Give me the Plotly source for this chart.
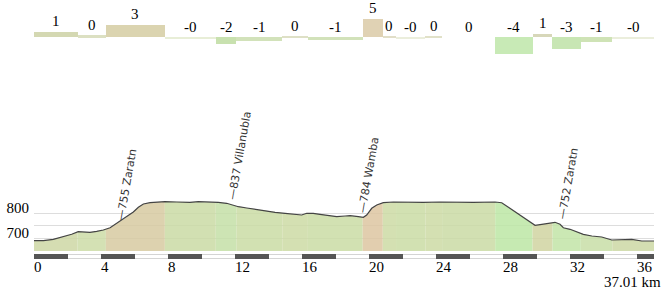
import numpy as np
import plotly.graph_objects as go

# ---------------- data ----------------
total_km = 37.01

profile_km = [0.0, 0.56, 1.15, 1.75, 2.25, 2.64, 2.94, 3.34, 3.74, 4.14, 4.54, 4.84, 5.13, 5.53,
              5.93, 6.23, 6.53, 6.93, 7.33, 7.82, 8.52, 9.31, 9.81, 10.41, 11.0, 11.5, 11.8,
              12.2, 12.7, 13.19, 13.79, 14.39, 14.99, 15.58, 15.98, 16.28, 16.67, 17.07, 17.57,
              18.07, 18.57, 18.87, 19.36, 19.66, 19.86, 20.16, 20.46, 20.85, 21.45, 22.25, 23.24,
              24.24, 25.24, 26.23, 27.52, 27.92, 28.32, 28.72, 29.12, 29.51, 29.91, 30.31, 30.7,
              31.1, 31.4, 31.6, 32.0, 32.4, 32.79, 33.3, 33.89, 34.49, 35.09, 35.68, 36.28, 37.01]
profile_elev = [691, 691, 696.5, 705.7, 716.4, 726.7, 725.5, 724.4, 728.3, 733.5, 742.6, 756, 766.5,
                784, 805, 823.7, 837, 842, 844.8, 846, 844.8, 843.6, 846, 846, 843.6, 839.7, 834.1,
                826.1, 821, 815.8, 810.2, 803.9, 799.9, 795.9, 793.1, 799.9, 799.9, 795.9, 792,
                786.4, 789.2, 790.4, 786.4, 784, 793.1, 819.8, 832.9, 842, 844.8, 843.6, 843.6,
                844.8, 843.6, 843.6, 844.8, 842, 823.7, 805.1, 786.4, 769.3, 752.2, 756.2, 760.1,
                764.1, 756.2, 742.6, 736.3, 726.7, 716.4, 709.6, 705.7, 693.7, 693.7, 696.5, 689.8,
                689.8]

seg_edges = [0, 2.6, 4.29, 7.81, 10.85, 12.08, 14.82, 16.35, 19.62, 20.82, 21.61, 23.36, 24.36,
             27.53, 29.76, 30.95, 32.64, 34.52, 37.01]
seg_grade = [1.4, 0.5, 3.3, -0.2, -1.6, -0.9, 0.3, -0.6, 4.8, 0.3, -0.2, 0.2, 0.0, -4.3, 0.95,
             -3.1, -1.1, -0.2]
seg_labels = ["1", "0", "3", "-0", "-2", "-1", "0", "-1", "5", "0", "-0", "0", "0", "-4", "1",
              "-3", "-1", "-0"]

place_km = [4.9, 11.5, 19.27, 31.2]
place_names = ["755 Zaratn", "837 Villanubla", "784 Wamba", "752 Zaratn"]

x_ticks = [0, 4, 8, 12, 16, 20, 24, 28, 32, 36]
y_ticks = [650, 700, 750, 800, 850]
y_ticktext = ["", "700", "", "800", ""]

# ---------------- styles ----------------
bar_colors = ["rgb(212,216,178)", "rgb(220,224,194)", "rgb(219,212,176)", "rgb(232,238,215)",
              "rgb(200,225,175)", "rgb(210,226,186)", "rgb(222,224,198)", "rgb(210,226,186)",
              "rgb(224,210,180)", "rgb(225,222,200)", "rgb(235,238,220)", "rgb(225,225,200)",
              "rgb(225,225,200)", "rgb(200,234,182)", "rgb(215,215,185)", "rgb(200,230,180)",
              "rgb(207,227,182)", "rgb(235,238,220)"]
band_colors = [(213, 221, 178), (212, 225, 180), (221, 210, 175), (210, 224, 178),
               (205, 228, 180), (210, 225, 178), (212, 224, 178), (210, 225, 178),
               (226, 206, 175), (212, 224, 178), (210, 225, 178), (212, 224, 178),
               (210, 224, 178), (198, 234, 178), (215, 218, 175), (203, 232, 180),
               (208, 227, 180), (212, 222, 178)]
ALPHA = 0.85


def rgba(c):
    r, g, b = [max(0, min(255, (v - (1 - ALPHA) * 255) / ALPHA)) for v in c]
    return f"rgba({r:.0f},{g:.0f},{b:.0f},{ALPHA})"


SERIF = "Liberation Serif, DejaVu Serif, serif"

pk = np.array(profile_km, dtype=float)
pe = np.array(profile_elev, dtype=float)

fig = go.Figure()

# ---------------- coloured bands under the profile ----------------
for i in range(len(seg_grade)):
    a, b = seg_edges[i], seg_edges[i + 1]
    inner = pk[(pk > a) & (pk < b)]
    xs = np.concatenate([[a], inner, [b]])
    ys = np.interp(xs, pk, pe)
    fig.add_trace(go.Scatter(x=xs, y=ys, xaxis="x2", yaxis="y2", mode="lines",
                             line=dict(width=0), fill="tozeroy",
                             fillcolor=rgba(band_colors[i]), hoverinfo="skip",
                             showlegend=False))

# profile line
fig.add_trace(go.Scatter(x=pk, y=pe, xaxis="x2", yaxis="y2", mode="lines",
                         line=dict(color="#444", width=1.2), hoverinfo="skip",
                         showlegend=False))

# ---------------- gradient bars ----------------
centers = [(seg_edges[i] + seg_edges[i + 1]) / 2 for i in range(len(seg_grade))]
widths = [seg_edges[i + 1] - seg_edges[i] for i in range(len(seg_grade))]
fig.add_trace(go.Bar(x=centers, y=seg_grade, width=widths, xaxis="x", yaxis="y",
                     marker=dict(color=bar_colors, line=dict(width=0)),
                     hoverinfo="skip", showlegend=False))
for c, g, lab in zip(centers, seg_grade, seg_labels):
    fig.add_annotation(x=c, y=max(g, 0), xref="x", yref="y", text=lab, showarrow=False,
                       xanchor="center", yanchor="bottom", yshift=1,
                       font=dict(family=SERIF, size=15, color="black"))

# ---------------- distance dash bar ----------------
dash_centers = [k + 1 for k in range(0, int(np.ceil(total_km)) + 1, 4)]
fig.add_trace(go.Bar(x=dash_centers, y=[1] * len(dash_centers), width=2, xaxis="x3", yaxis="y3",
                     marker=dict(color="#555", line=dict(width=0)), hoverinfo="skip",
                     showlegend=False))
fig.add_shape(type="rect", xref="x3", yref="y3", x0=0, x1=total_km, y0=0, y1=1,
              line=dict(color="#aaa", width=1), fillcolor="white", layer="below")

# ---------------- place annotations ----------------
for km, name in zip(place_km, place_names):
    fig.add_annotation(x=km, y=float(np.interp(km, pk, pe)), xref="x2", yref="y2",
                       text="\u2014" + name, showarrow=False, textangle=-80,
                       xanchor="left", yanchor="bottom", xshift=-4,
                       font=dict(family="DejaVu Sans", size=11, color="#333"))

fig.add_annotation(x=1, y=0, xref="paper", yref="paper", text=f"{total_km:.2f} km",
                   showarrow=False, xanchor="right", yanchor="top", xshift=9, yshift=-13,
                   font=dict(family=SERIF, size=15, color="black"))

H = 259.0
fig.update_layout(
    width=672, height=291,
    margin=dict(l=34, r=18, t=0, b=32),
    paper_bgcolor="white", plot_bgcolor="white",
    hovermode=False, showlegend=False, bargap=0,
    xaxis=dict(domain=[0, 1], range=[0, total_km], visible=False, anchor="y"),
    yaxis=dict(domain=[1 - 57.2 / H, 1 - 14.3 / H], range=[-5, 6], visible=False, anchor="x"),
    xaxis2=dict(domain=[0, 1], range=[0, total_km], anchor="y2", showticklabels=False,
                showgrid=False, zeroline=False, ticks=""),
    yaxis2=dict(domain=[1 - 251 / H, 1 - 200.7 / H], range=[650, 850], anchor="x2",
                tickvals=y_ticks, ticktext=y_ticktext, gridcolor="#ddd", gridwidth=1,
                zeroline=False, ticks="", ticklabelshift=-6, ticklabelstandoff=4,
                tickfont=dict(family=SERIF, size=15, color="black")),
    xaxis3=dict(domain=[0, 1], range=[0, total_km], anchor="y3", tickvals=x_ticks,
                ticktext=[str(t) for t in x_ticks], ticklabelposition="outside right",
                showgrid=False, zeroline=False, ticks="", ticklabelstandoff=-3,
                tickfont=dict(family=SERIF, size=15, color="black")),
    yaxis3=dict(domain=[0, 5 / H], range=[0, 1], visible=False, anchor="x3"),
)

fig.write_html("out.html")
